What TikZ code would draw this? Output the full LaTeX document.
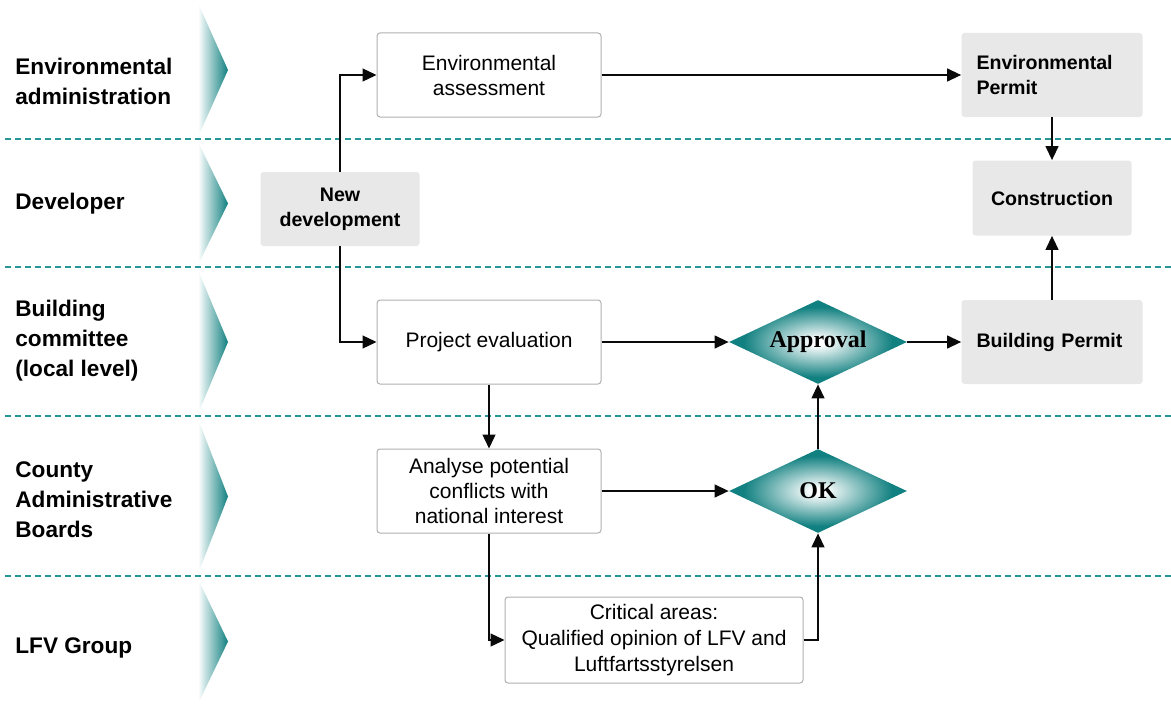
\documentclass[tikz,border=0pt]{standalone}
\usepackage{fontspec}
\setmainfont{Liberation Sans}
\newfontfamily\diafont{Liberation Serif}
\usepackage{tikz}
\usetikzlibrary{positioning,arrows.meta,shapes.geometric}
\usepackage{xcolor}
\definecolor{laneteal}{RGB}{17,128,128}
\definecolor{septeal}{RGB}{40,150,150}
\definecolor{boxgray}{RGB}{232,232,232}
\definecolor{edgegray}{RGB}{176,176,176}
\definecolor{linedark}{RGB}{10,10,10}
\pgfdeclareradialshading{diaglow}{\pgfpoint{0bp}{0bp}}{%
  color(0bp)=(white); color(2bp)=(white); color(21bp)=(laneteal); color(50bp)=(laneteal)}

\tikzset{
  lanelabel/.style={anchor=west,align=left,inner sep=0pt,
    font=\fontsize{11.3}{15}\selectfont\bfseries},
  whitebox/.style={draw=edgegray,line width=0.5pt,fill=white,rounded corners=1.5pt,
    minimum width=112pt,minimum height=42pt,align=center,inner sep=2pt,
    font=\fontsize{10.5}{12.5}\selectfont},
  graybox/.style={fill=boxgray,rounded corners=1.5pt,minimum height=42pt,
    font=\fontsize{9.8}{12.5}\selectfont\bfseries},
  permitbox/.style={graybox,text width=75.5pt,inner xsep=7.5pt,align=left},
  devbox/.style={graybox,minimum width=79.5pt,minimum height=37.5pt,align=center,inner sep=2pt},
  decision/.style={diamond,aspect=2.1,inner sep=0pt,minimum width=89pt,minimum height=42pt,
    shade,shading=diaglow,
    font=\fontsize{12}{14}\selectfont\diafont\bfseries},
  flow/.style={draw=linedark,line width=0.65pt,-{Triangle[length=7pt,width=6.5pt]}},
  lanesep/.style={draw=septeal,line width=0.6pt,dash pattern=on 3pt off 2pt}
}

\begin{document}
\begin{tikzpicture}[x=0.5pt,y=-0.5pt]
  \useasboundingbox (0,0) rectangle (1171,706);

  % lanes
  \foreach \ytop/\ybot in {3/137,142/265,270/414,419/574,579/704}
    \shade[left color=white,right color=laneteal]
      (198,\ytop) -- (228,{(\ytop+\ybot)/2}) -- (198,\ybot) -- cycle;
  \foreach \ysep in {139,267,416,576}
    \draw[lanesep] (5,\ysep) -- (1171,\ysep);

  \node[lanelabel] (lblenv) at (15,81) {Environmental\\administration};
  \node[lanelabel] (lbldev) at (15,204) {Developer};
  \node[lanelabel] (lblbuild) at (15,341) {Building\\committee\\(local level)};
  \node[lanelabel] (lblcounty) at (15,500) {County\\Administrative\\Boards};
  \node[lanelabel] (lbllfv) at (15,648) {LFV Group};

  % boxes
  \node[whitebox] (envassess) at (489,75) {Environmental\\assessment};
  \node[permitbox] (envpermit) at (1052,75) {Environmental\\Permit};
  \node[devbox,minimum height=37pt] (newdev) at (340,209) {New\\development};
  \node[devbox] (construct) at (1052,198) {Construction};
  \node[whitebox] (projeval) at (489,342) {Project evaluation};
  \node[decision] (approval) at (818,342) {Approval};
  \node[permitbox] (buildpermit) at (1052,342) {Building Permit};
  \node[whitebox] (analyse) at (489,491) {Analyse potential\\conflicts with\\national interest};
  \node[decision] (ok) at (818,491) {OK};
  \node[whitebox,minimum width=149pt,minimum height=43pt,
        font=\fontsize{10.5}{13}\selectfont] (critical) at (654,640)
    {Critical areas:\\Qualified opinion of LFV and\\Luftfartsstyrelsen};

  % connectors
  \draw[flow] (newdev.north) |- (envassess.west);
  \draw[flow] (newdev.south) |- (projeval.west);
  \draw[flow] (envassess.east) -- (envpermit.west);
  \draw[flow] (envpermit.south) -- (construct.north);
  \draw[flow] (projeval.east) -- (approval.west);
  \draw[flow] (approval.east) -- (buildpermit.west);
  \draw[flow] (buildpermit.north) -- (construct.south);
  \draw[flow] (projeval.south) -- (analyse.north);
  \draw[flow] (analyse.east) -- (ok.west);
  \draw[flow] (ok.north) -- (approval.south);
  \draw[flow] (analyse.south) |- (critical.west);
  \draw[flow] (critical.east) -| (ok.south);
\end{tikzpicture}
\end{document}
